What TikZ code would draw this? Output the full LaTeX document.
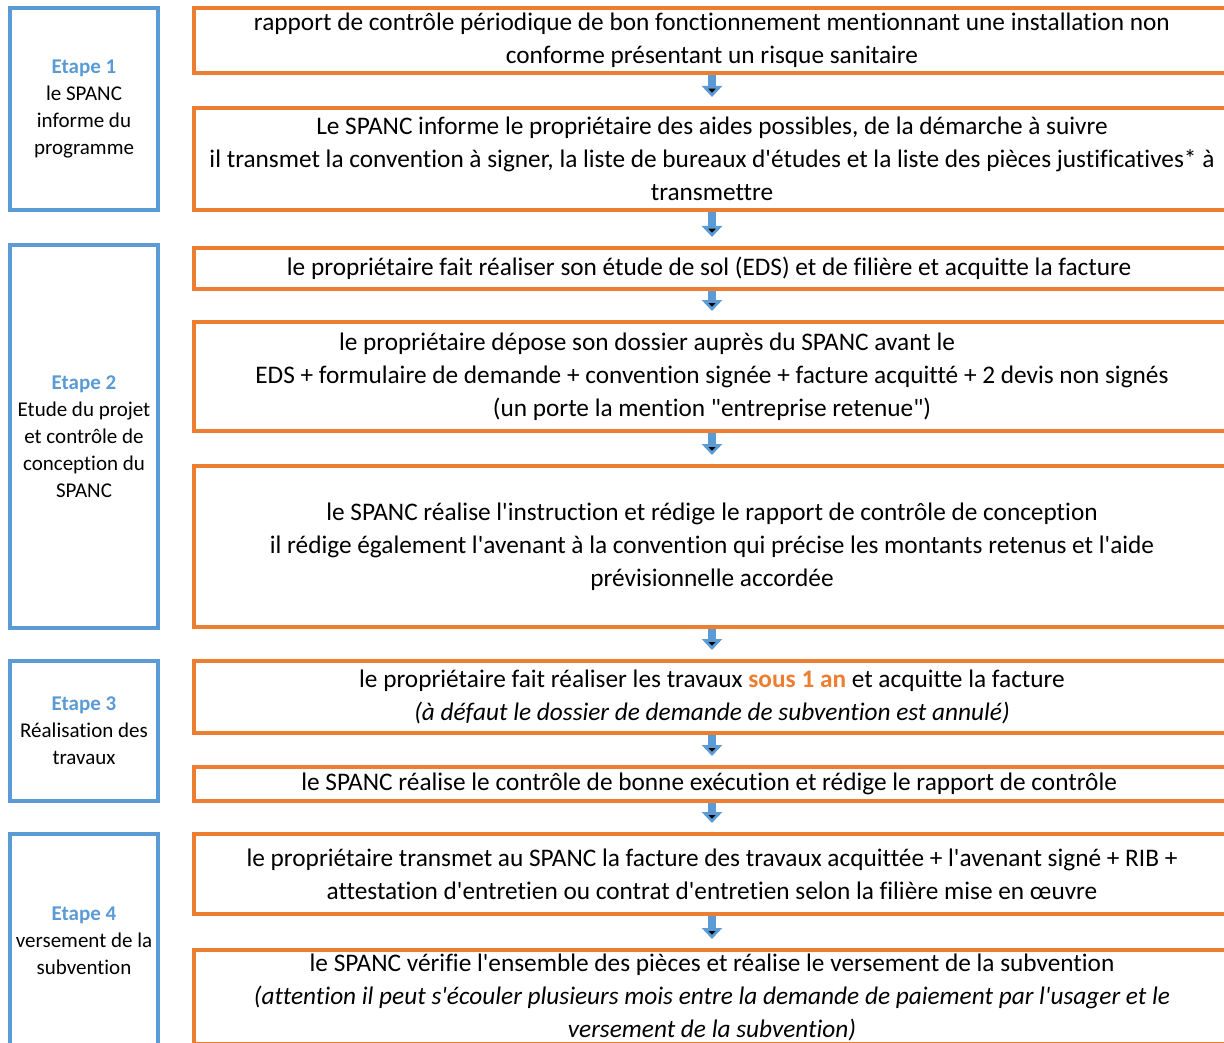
\documentclass[tikz,border=0pt]{standalone}
\usepackage{fontspec}
\setmainfont{Carlito}[Ligatures={TeXOff,CommonOff}]
\usepackage{tikz}
\usetikzlibrary{arrows.meta}
\definecolor{orangebox}{RGB}{237,125,49}
\definecolor{bluebox}{RGB}{91,155,213}
\tikzstyle{etape}=[draw=bluebox, line width=4pt, minimum width=148pt, inner sep=0pt, align=center, font=\fontsize{21}{27}\selectfont]
\tikzstyle{action}=[draw=orangebox, line width=4pt, minimum width=1036pt, inner sep=0pt, align=center, font=\fontsize{25.3}{33}\selectfont]
\tikzstyle{arrow}=[draw=bluebox, line width=8pt, -{Triangle[width=20pt,length=11pt]}, shorten >=9pt]
\newcommand{\etapetitle}[1]{\textcolor{bluebox}{\textbf{#1}}}

\begin{document}
\begin{tikzpicture}[x=1pt, y=-1pt]
		   \useasboundingbox (0,0) rectangle (1224,1043);
		   \begin{scope}
			   \node (s1) at (84, 109)[etape, minimum height=202pt] {\etapetitle{Etape 1}\\le SPANC\\informe du\\programme};
			   \node (s2) at (84, 436.5)[etape, minimum height=383pt] {\etapetitle{Etape 2}\\Etude du projet\\et contrôle de\\conception du\\SPANC};
			   \node (s3) at (84, 731)[etape, minimum height=140pt] {\etapetitle{Etape 3}\\Réalisation des\\travaux};
			   \node (s4) at (84, 941)[etape, minimum height=214pt] {\etapetitle{Etape 4}\\versement de la\\subvention};
		   \end{scope}
		   \begin{scope}
			   \node (rapport) at (712, 40.5)[action, minimum height=65pt] {
				   rapport de contrôle périodique de bon fonctionnement mentionnant une installation non\\
				   conforme présentant un risque sanitaire
			   };
			   \node (informe) at (712, 159)[action, minimum height=102pt] {
				   Le SPANC informe le propriétaire des aides possibles, de la démarche à suivre\\
				   il transmet la convention à signer, la liste de bureaux d'études et la liste des pièces justificatives* à\\
				   transmettre
			   };
			   \node (eds) at (712, 268.5)[action, minimum height=41pt] {
				   le propriétaire fait réaliser son étude de sol (EDS) et de filière et acquitte la facture
			   };
			   \node (dossier) at (712, 376.5)[action, minimum height=109pt] {
				   le propriétaire dépose son dossier auprès du SPANC avant le\hspace{130pt}\mbox{}\\
				   EDS + formulaire de demande + convention signée + facture acquitté + 2 devis non signés\\
				   (un porte la mention \symbol{34}entreprise retenue\symbol{34})
			   };
			   \node (instruction) at (712, 546.5)[action, minimum height=161pt] {
				   le SPANC réalise l'instruction et rédige le rapport de contrôle de conception\\
				   il rédige également l'avenant à la convention qui précise les montants retenus et l'aide\\
				   prévisionnelle accordée
			   };
			   \node (travaux) at (712, 697)[action, minimum height=72pt] {
				   le propriétaire fait réaliser les travaux \textcolor{orangebox}{\textbf{sous 1 an}} et acquitte la facture\\
				   \textit{(à défaut le dossier de demande de subvention est annulé)}
			   };
			   \node (controle) at (712, 784)[action, minimum height=34pt] {
				   le SPANC réalise le contrôle de bonne exécution et rédige le rapport de contrôle
			   };
			   \node (transmet) at (712, 874)[action, minimum height=80pt] {
				   le propriétaire transmet au SPANC la facture des travaux acquittée + l'avenant signé + RIB +\\
				   attestation d'entretien ou contrat d'entretien selon la filière mise en œuvre
			   };
			   \node (versement) at (712, 997)[action, minimum height=94pt] {
				   le SPANC vérifie l'ensemble des pièces et réalise le versement de la subvention\\
				   \textit{(attention il peut s'écouler plusieurs mois entre la demande de paiement par l'usager et le}\\
				   \textit{versement de la subvention)}
			   };
		   \end{scope}
		   \begin{scope}
			   \path [arrow] (rapport) edge (informe);
			   \path [arrow] (informe) edge (eds);
			   \path [arrow] (eds) edge (dossier);
			   \path [arrow] (dossier) edge (instruction);
			   \path [arrow] (instruction) edge (travaux);
			   \path [arrow] (travaux) edge (controle);
			   \path [arrow] (controle) edge (transmet);
			   \path [arrow] (transmet) edge (versement);
		   \end{scope}
	   \end{tikzpicture}
\end{document}
